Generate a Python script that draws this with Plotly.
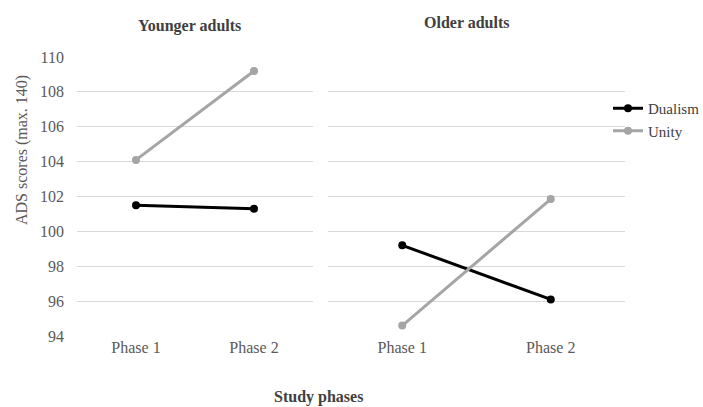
import plotly.graph_objects as go

phases = ["Phase 1", "Phase 2"]
groups = ["Younger adults", "Older adults"]
dualism = {"Younger adults": [101.5, 101.3], "Older adults": [99.2, 96.1]}
unity = {"Younger adults": [104.1, 109.2], "Older adults": [94.6, 101.85]}
y_ticks = [94, 96, 98, 100, 102, 104, 106, 108, 110]

W, H = 703, 407
FONT = "Liberation Serif, Times New Roman, serif"

fig = go.Figure()

x_domains = [[77 / W, 313 / W], [328 / W, 625 / W]]
y_domain = [1 - 336 / H, 1 - 57 / H]

for i, g in enumerate(groups):
    xa = "x" if i == 0 else "x2"
    ya = "y" if i == 0 else "y2"
    fig.add_trace(go.Scatter(
        x=phases, y=dualism[g], mode="lines+markers", name="Dualism",
        line=dict(color="#000000", width=3), marker=dict(size=8, color="#000000"),
        xaxis=xa, yaxis=ya, showlegend=(i == 0)))
    fig.add_trace(go.Scatter(
        x=phases, y=unity[g], mode="lines+markers", name="Unity",
        line=dict(color="#a5a5a5", width=3), marker=dict(size=8, color="#a5a5a5"),
        xaxis=xa, yaxis=ya, showlegend=(i == 0)))

axis_common = dict(showline=False, zeroline=False, ticks="", automargin=False,
                   tickfont=dict(family=FONT, size=16, color="#595959"))

fig.update_layout(
    width=W, height=H,
    margin=dict(l=0, r=0, t=0, b=0, pad=0, autoexpand=False),
    plot_bgcolor="white", paper_bgcolor="white",
    font=dict(family=FONT),
    xaxis=dict(domain=x_domains[0], range=[-0.5, 1.5], showgrid=False, **axis_common),
    xaxis2=dict(domain=x_domains[1], range=[-0.5, 1.5], showgrid=False, anchor="y2", **axis_common),
    yaxis=dict(domain=y_domain, range=[94, 110], tickvals=y_ticks, showgrid=True,
               gridcolor="#d9d9d9", gridwidth=1, ticklabelstandoff=12, **axis_common),
    yaxis2=dict(domain=y_domain, range=[94, 110], tickvals=y_ticks, showgrid=True,
                gridcolor="#d9d9d9", gridwidth=1, showticklabels=False, anchor="x2",
                matches="y", **axis_common),
    legend=dict(x=608 / W, y=1 - 92 / H, xanchor="left", yanchor="top",
                font=dict(family=FONT, size=15, color="#404040"),
                bgcolor="rgba(0,0,0,0)", tracegroupgap=0, itemwidth=30),
    showlegend=True,
)

ann_font = dict(family=FONT, size=16, color="#404040")
fig.add_annotation(text="<b>Younger adults</b>", x=189 / W, y=1 - 26 / H, xref="paper", yref="paper",
                   xanchor="center", yanchor="middle", showarrow=False, font=ann_font)
fig.add_annotation(text="<b>Older adults</b>", x=467 / W, y=1 - 22 / H, xref="paper", yref="paper",
                   xanchor="center", yanchor="middle", showarrow=False, font=ann_font)
fig.add_annotation(text="<b>Study phases</b>", x=318 / W, y=1 - 397 / H, xref="paper", yref="paper",
                   xanchor="center", yanchor="middle", showarrow=False, font=ann_font)
fig.add_annotation(text="ADS scores (max. 140)", x=22 / W, y=1 - 150 / H, xref="paper", yref="paper",
                   xanchor="center", yanchor="middle", showarrow=False, textangle=-90,
                   font=dict(family=FONT, size=16, color="#595959"))

fig.write_html("out.html")
